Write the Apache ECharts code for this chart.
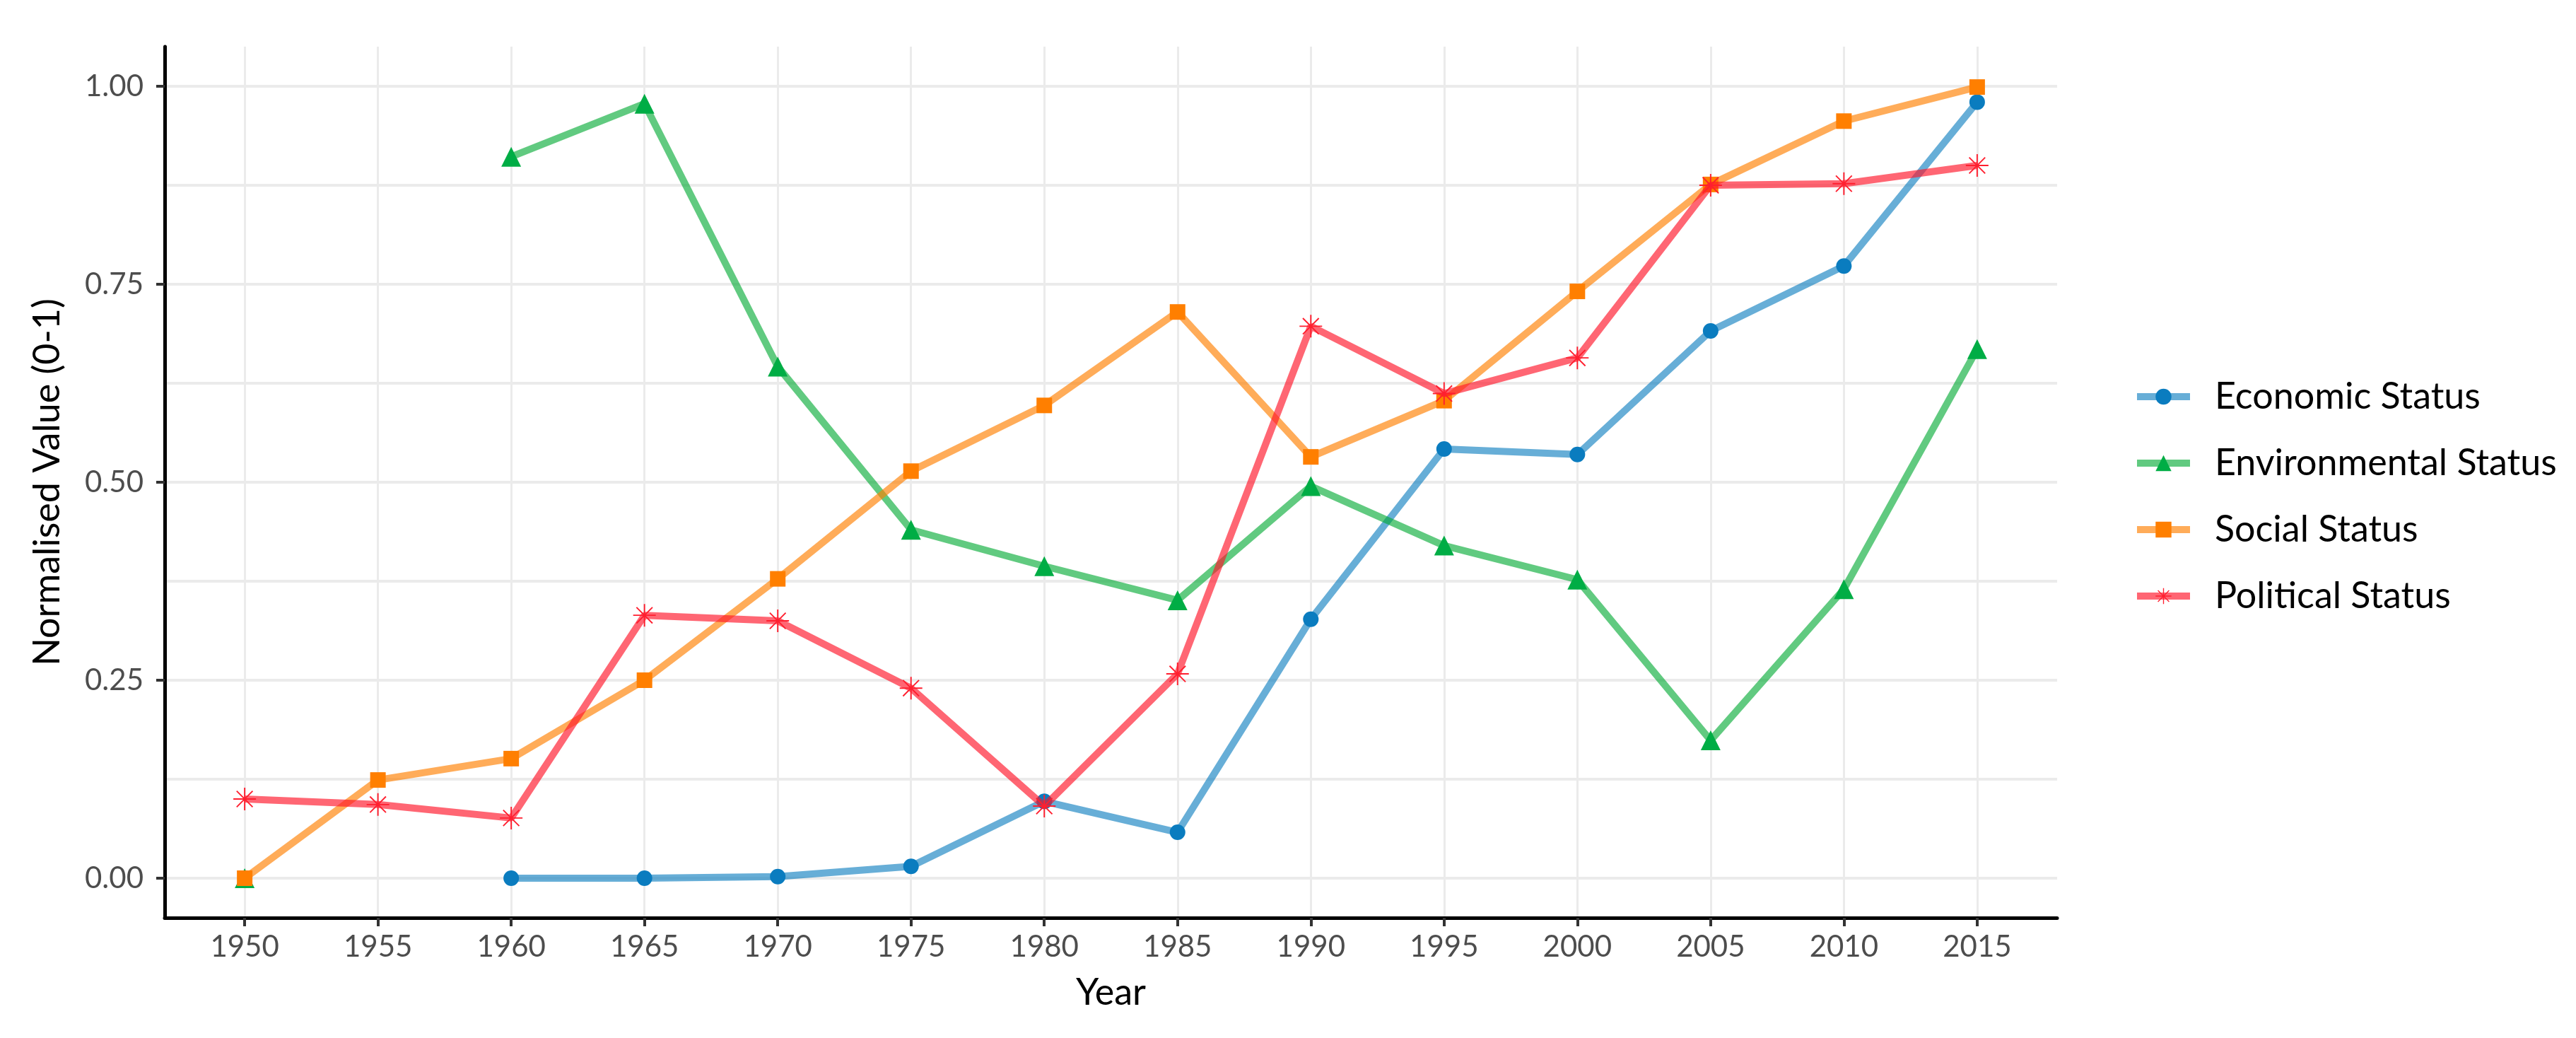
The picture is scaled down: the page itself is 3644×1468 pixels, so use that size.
<!DOCTYPE html>
<html>
<head>
<meta charset="utf-8">
<script src="https://cdn.jsdelivr.net/npm/echarts@6/dist/echarts.min.js"></script>
<style>
html,body{margin:0;padding:0;background:#fff;}
#chart{width:3644px;height:1468px;}
</style>
</head>
<body>
<div id="chart"></div>
<script>
// ---- data ----
const years = [1950,1955,1960,1965,1970,1975,1980,1985,1990,1995,2000,2005,2010,2015];
const economic = [null,null,0.000,0.000,0.002,0.015,0.097,0.058,0.327,0.542,0.535,0.691,0.773,0.980];
const environmental = [0.000,null,0.911,0.978,0.646,0.440,0.394,0.351,0.495,0.420,0.377,0.174,0.365,0.668];
const social = [0.000,0.124,0.151,0.250,0.378,0.514,0.597,0.715,0.532,0.603,0.741,0.876,0.956,0.999];
const political = [0.100,0.093,0.076,0.332,0.325,0.240,0.091,0.258,0.697,0.612,0.657,0.875,0.877,0.900];
const yTicks = [0,0.25,0.5,0.75,1];
const yGrid = [0,0.125,0.25,0.375,0.5,0.625,0.75,0.875,1];
const seriesNames = ['Economic Status','Environmental Status','Social Status','Political Status'];
const xMin = 1947, xMax = 2018, yMin = -0.05, yMax = 1.05;

const FONT = 'Lato';
const starPath = 'path://M47 0L53 0L53 100L47 100Z M0 47L100 47L100 53L0 53Z M16.76 12.52L87.48 83.24L83.24 87.48L12.52 16.76Z M87.48 16.76L16.76 87.48L12.52 83.24L83.24 12.52Z';

function pairs(vals){ return years.map((y,i)=>[y, vals[i]]); }

const styles = [
  {marker:'#0A7CBF', line:'rgba(10,124,191,0.62)', symbol:'circle', size:22},
  {marker:'#00AD45', line:'rgba(0,170,50,0.62)', symbol:'triangle', size:28},
  {marker:'#FF7F00', line:'rgba(255,127,0,0.65)', symbol:'rect', size:22},
  {marker:'#FF1F2F', line:'rgba(255,20,40,0.65)', symbol:starPath, size:32}
];
const dataSets = [economic, environmental, social, political];

const gridLineData = years.map(y=>[
    {coord:[y, yMin], lineStyle:{color:'#EBEBEB', width:3, type:'solid'}},
    {coord:[y, yMax]}
  ]).concat(yGrid.map(v=>[
    {coord:[xMin, v], lineStyle:{color:'#EBEBEB', width:4, type:'solid'}},
    {coord:[xMax, v]}
  ]));

const series = [{
  name:'grid', type:'line', data:[], silent:true, z:0,
  markLine:{
    silent:true, symbol:['none','none'], label:{show:false}, z:0, zlevel:0,
    animation:false, emphasis:{disabled:true},
    data: gridLineData
  }
}];
seriesNames.forEach((n,i)=>{
  const s = styles[i];
  series.push({
    name:n, type:'line', data:pairs(dataSets[i]), connectNulls:false,
    z:10+i, symbol:s.symbol, symbolSize:s.size, showAllSymbol:true,
    itemStyle:{color:s.marker, borderWidth:0, borderColor:'transparent'},
    lineStyle:{color:s.line, width:10},
    emphasis:{disabled:true}, animation:false
  });
});

const chart = echarts.init(document.getElementById('chart'));
chart.setOption({
  backgroundColor:'#ffffff',
  animation:false,
  grid:{left:233, right:734, top:66, bottom:170, containLabel:false, outerBoundsMode:'none'},
  xAxis:{
    type:'value', min:xMin, max:xMax, z:20,
    name:'Year', nameLocation:'middle', nameGap:80,
    nameTextStyle:{fontFamily:FONT, fontSize:52, color:'#000'},
    axisLine:{show:true, onZero:false, lineStyle:{color:'#000', width:5}},
    axisTick:{show:true, length:12, customValues:years, lineStyle:{color:'#333', width:4}},
    axisLabel:{customValues:years, margin:20, fontFamily:FONT, fontSize:42, color:'#4D4D4D', formatter:v=>String(v)},
    splitLine:{show:false}, minorTick:{show:false}, minorSplitLine:{show:false}
  },
  yAxis:{
    type:'value', min:yMin, max:yMax, z:20,
    name:'Normalised Value (0-1)', nameLocation:'middle', nameGap:140, nameRotate:90,
    nameTextStyle:{fontFamily:FONT, fontSize:52, color:'#000'},
    axisLine:{show:true, onZero:false, lineStyle:{color:'#000', width:5}},
    axisTick:{show:true, length:12, customValues:yTicks, lineStyle:{color:'#333', width:4}},
    axisLabel:{customValues:yTicks, margin:30, fontFamily:FONT, fontSize:42, color:'#4D4D4D', formatter:v=>v.toFixed(2)},
    splitLine:{show:false}, minorTick:{show:false}, minorSplitLine:{show:false}
  },
  legend:{
    orient:'vertical', left:3013, top:530,
    data:seriesNames, itemWidth:75, itemHeight:28, itemGap:42,
    selectedMode:false,
    lineStyle:{width:10},
    textStyle:{fontFamily:FONT, fontSize:52, color:'#000', padding:[0,0,0,30]}
  },
  series:series
});
</script>
</body>
</html>
